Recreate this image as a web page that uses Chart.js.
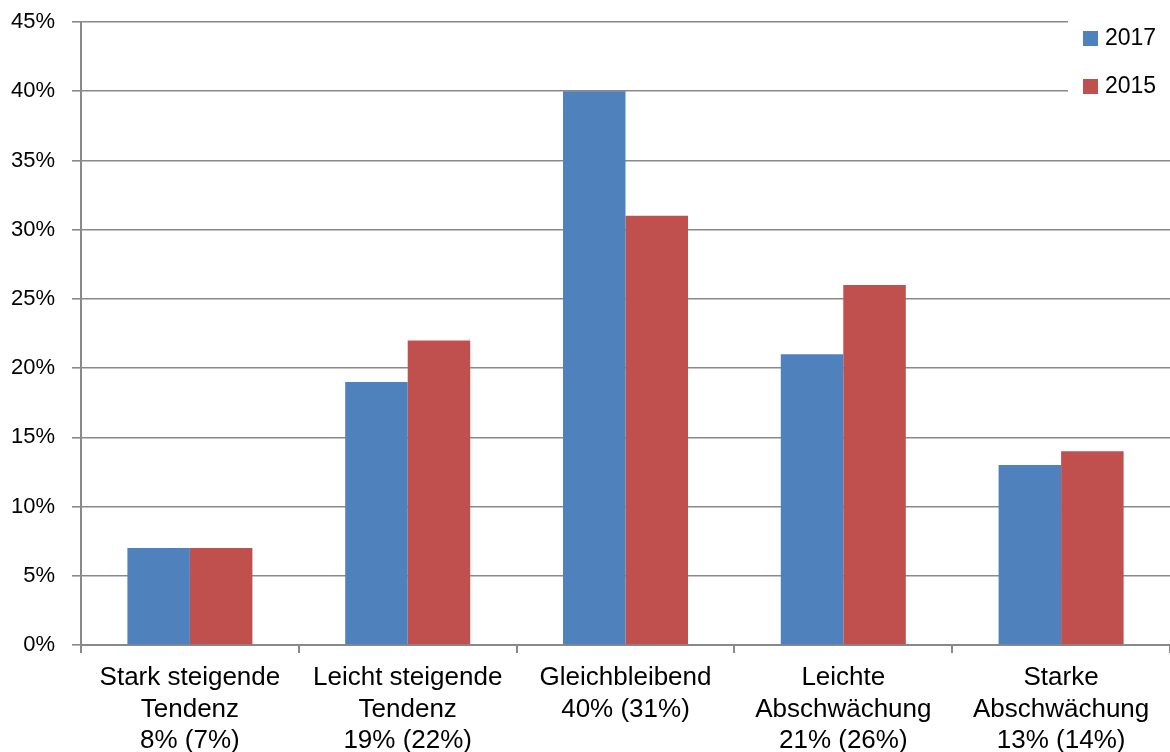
<!DOCTYPE html>
<html>
<head>
<meta charset="utf-8">
<script src="https://cdn.jsdelivr.net/npm/chart.js@4/dist/chart.umd.min.js"></script>
<style>
  html, body { margin: 0; padding: 0; background: #fff; }
  #wrap { width: 1170px; height: 752px; position: relative; }
</style>
</head>
<body>
<div id="wrap"><canvas id="chart"></canvas></div>
<script>
// Categories (multi-line labels)
const categories = [
  ['Stark steigende', 'Tendenz', '8% (7%)'],
  ['Leicht steigende', 'Tendenz', '19% (22%)'],
  ['Gleichbleibend', '40% (31%)'],
  ['Leichte', 'Abschwächung', '21% (26%)'],
  ['Starke', 'Abschwächung', '13% (14%)']
];
const seriesNames = ['2017', '2015'];
const values2017 = [7, 19, 40, 21, 13];
const values2015 = [7, 22, 31, 26, 14];
const yTicks = [0, 5, 10, 15, 20, 25, 30, 35, 40, 45];

const blue = '#4F81BD';
const red = '#C0504D';
const gridGray = '#898989';

// Legend drawn in the top right corner, over the grid
const cornerLegend = {
  id: 'cornerLegend',
  afterDraw(chart) {
    const ctx = chart.ctx;
    ctx.save();
    ctx.fillStyle = '#fff';
    ctx.fillRect(1068, 8, 102, 100);
    ctx.font = '23px "Liberation Sans", Arial, sans-serif';
    ctx.textBaseline = 'middle';
    chart.data.datasets.forEach((ds, i) => {
      const cy = 38 + i * 48;
      ctx.fillStyle = ds.backgroundColor;
      ctx.fillRect(1083, cy - 7, 15, 15);
      ctx.fillStyle = '#000';
      ctx.fillText(ds.label, 1105, cy + 1);
    });
    ctx.restore();
  }
};

const ctx = document.getElementById('chart').getContext('2d');
new Chart(ctx, {
  type: 'bar',
  data: {
    labels: categories,
    datasets: [
      { label: seriesNames[0], data: values2017, backgroundColor: blue, borderWidth: 0 },
      { label: seriesNames[1], data: values2015, backgroundColor: red, borderWidth: 0 }
    ]
  },
  options: {
    responsive: true,
    maintainAspectRatio: false,
    animation: false,
    layout: { padding: { top: 22, right: 0, left: 0, bottom: 0 } },
    datasets: { bar: { categoryPercentage: 0.574, barPercentage: 1.0 } },
    plugins: {
      legend: { display: false },
      tooltip: { enabled: false }
    },
    scales: {
      x: {
        offset: true,
        grid: {
          offset: true,
          drawOnChartArea: false,
          color: gridGray,
          lineWidth: 2,
          tickLength: 8
        },
        border: { color: gridGray, width: 2 },
        ticks: {
          color: '#000',
          font: { family: '"Liberation Sans", Arial, sans-serif', size: 26, lineHeight: 1.22 },
          maxRotation: 0,
          autoSkip: false,
          padding: 9
        },
        afterFit(scale) {
          scale.height = 107;
          scale.paddingTop = 0; scale.paddingBottom = 0;
          scale.paddingLeft = 0; scale.paddingRight = 0;
        }
      },
      y: {
        min: 0,
        max: 45,
        afterBuildTicks(scale) { scale.ticks = yTicks.map(v => ({ value: v })); },
        grid: {
          color: gridGray,
          lineWidth: 1.6,
          tickLength: 9
        },
        border: { color: gridGray, width: 2 },
        ticks: {
          color: '#000',
          font: { family: '"Liberation Sans", Arial, sans-serif', size: 22 },
          padding: 17,
          callback: v => v + '%'
        },
        afterFit(scale) {
          scale.width = 81;
          scale.paddingTop = 0; scale.paddingBottom = 0;
        }
      }
    }
  },
  plugins: [cornerLegend]
});
</script>
</body>
</html>
